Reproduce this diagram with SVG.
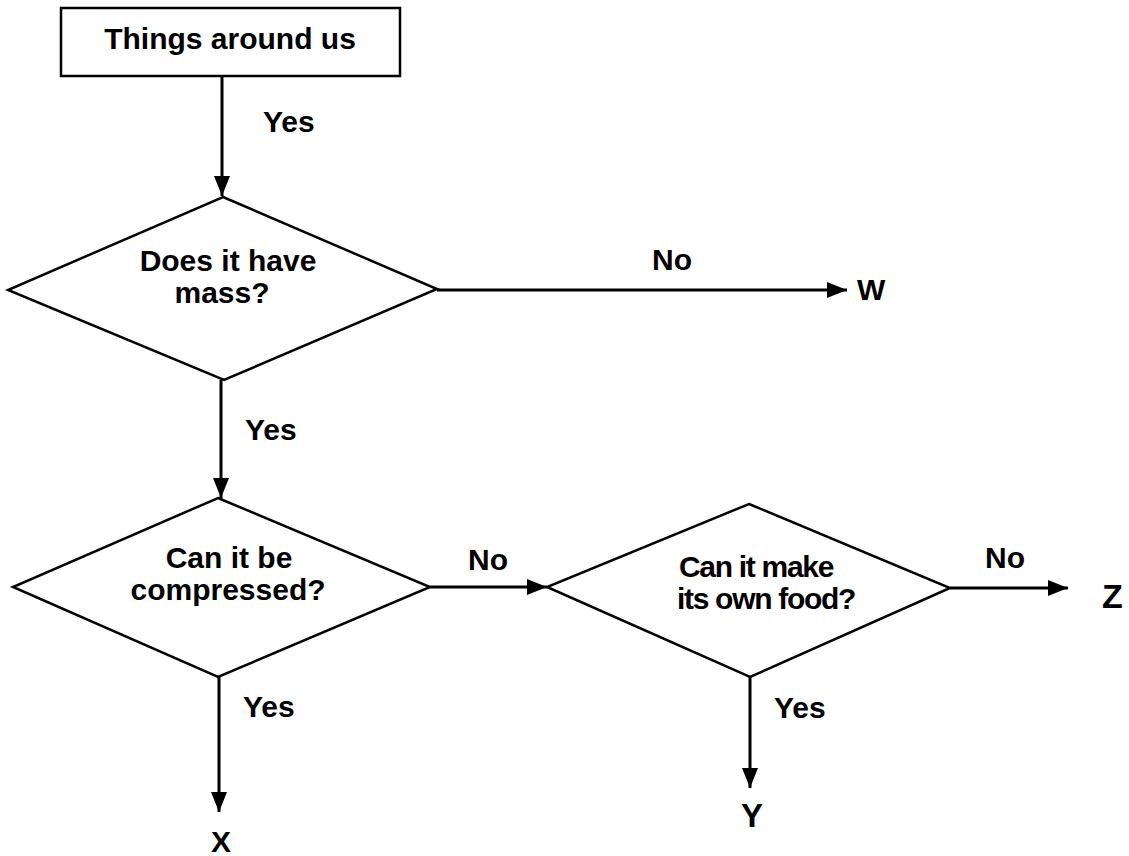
<svg xmlns="http://www.w3.org/2000/svg" width="1129" height="856" viewBox="0 0 1129 856">
<style>
text{font-family:"Liberation Sans",Arial,sans-serif;font-weight:bold;font-size:30px;fill:#000}
.shape{fill:#fff;stroke:#000;stroke-width:2.5}
.conn{stroke:#000;stroke-width:3;fill:none}
.c{text-anchor:middle}
.tight{letter-spacing:-1.3px}
</style>
<defs>
<marker id="ah" markerUnits="userSpaceOnUse" markerWidth="22" markerHeight="18" refX="20" refY="8" orient="auto">
<path d="M0,0 L20,8 L0,16 z" fill="#000"/>
</marker>
</defs>
<rect width="1129" height="856" fill="#fff"/>
<g id="connectors">
<line class="conn" x1="222" y1="76" x2="222" y2="196" marker-end="url(#ah)"/>
<line class="conn" x1="437" y1="290" x2="847" y2="290" marker-end="url(#ah)"/>
<line class="conn" x1="221" y1="380" x2="221" y2="498" marker-end="url(#ah)"/>
<line class="conn" x1="430" y1="587" x2="547" y2="587" marker-end="url(#ah)"/>
<line class="conn" x1="219" y1="677" x2="219" y2="812" marker-end="url(#ah)"/>
<line class="conn" x1="950" y1="588" x2="1068" y2="588" marker-end="url(#ah)"/>
<line class="conn" x1="750" y1="677" x2="750" y2="788" marker-end="url(#ah)"/>
<text x="263" y="132">Yes</text>
<text x="652" y="270">No</text>
<text x="245" y="440">Yes</text>
<text x="468" y="570">No</text>
<text x="243" y="717">Yes</text>
<text x="985" y="568">No</text>
<text x="774" y="718">Yes</text>
</g>
<g id="start">
<rect class="shape" x="61" y="8" width="339" height="68"/>
<text class="c" x="230" y="49">Things around us</text>
</g>
<g id="mass">
<polygon class="shape" points="223,197 437,289 224,380 8,290"/>
<text class="c" x="228" y="271">Does it have</text>
<text class="c" x="222" y="303">mass?</text>
</g>
<g id="compress">
<polygon class="shape" points="218,498 430,587 218,677 13,587"/>
<text class="c" x="229" y="568">Can it be</text>
<text class="c" x="228" y="600">compressed?</text>
</g>
<g id="food">
<polygon class="shape" points="749,504 950,588 750,677 547,587"/>
<text class="c tight" x="756" y="577">Can it make</text>
<text class="c tight" x="766" y="609">its own food?</text>
</g>
<g id="W"><text x="857" y="300">W</text></g>
<g id="X"><text x="211" y="852">X</text></g>
<g id="Y"><text x="741" y="827" style="font-size:33px">Y</text></g>
<g id="Z"><text x="1102" y="608" style="font-size:34px">Z</text></g>
</svg>
